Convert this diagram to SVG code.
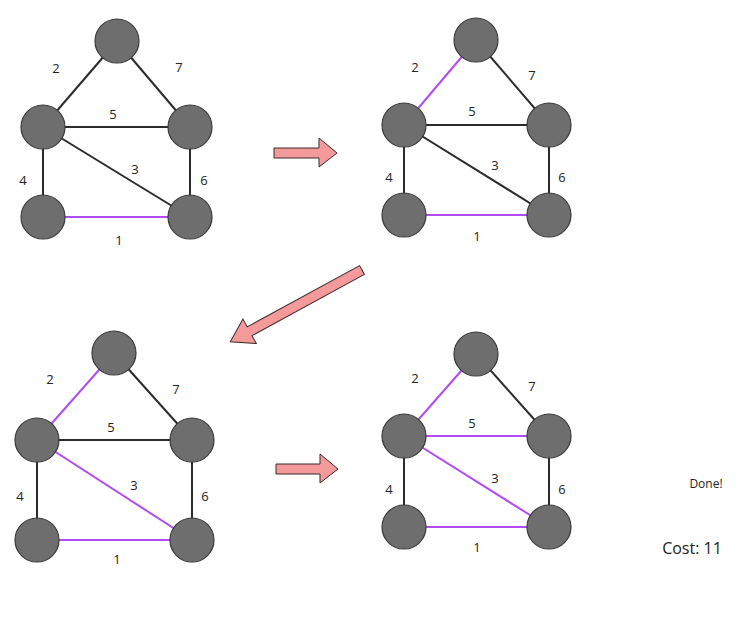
<svg xmlns="http://www.w3.org/2000/svg" width="749" height="622" viewBox="0 0 749 622">
<style>
.n{fill:#6e6e6e;stroke:#3a3a3a;stroke-width:1.2}
.e{stroke:#2b2b2b;stroke-width:2}
.p{stroke:#b04cf2;stroke-width:2}
.l{font-family:"Open Sans","Liberation Sans",sans-serif;font-size:13px;fill:#222;text-anchor:middle}
.a{fill:#f59a9a;stroke:#3a2a2a;stroke-width:1}
</style>
<rect width="749" height="622" fill="#fff"/>
<g id="connectors">
<line class="e" x1="117" y1="41" x2="43" y2="127"/><line class="e" x1="117" y1="41" x2="190" y2="127"/><line class="e" x1="43" y1="127" x2="190" y2="127"/><line class="e" x1="43" y1="127" x2="190" y2="217"/><line class="e" x1="43" y1="127" x2="43" y2="217"/><line class="e" x1="190" y1="127" x2="190" y2="217"/><line class="p" x1="43" y1="217" x2="190" y2="217"/>
<line class="p" x1="476" y1="40" x2="404" y2="125"/><line class="e" x1="476" y1="40" x2="549" y2="125"/><line class="e" x1="404" y1="125" x2="549" y2="125"/><line class="e" x1="404" y1="125" x2="549" y2="215"/><line class="e" x1="404" y1="125" x2="404" y2="215"/><line class="e" x1="549" y1="125" x2="549" y2="215"/><line class="p" x1="404" y1="215" x2="549" y2="215"/>
<line class="p" x1="114" y1="353" x2="37" y2="440"/><line class="e" x1="114" y1="353" x2="192" y2="440"/><line class="e" x1="37" y1="440" x2="192" y2="440"/><line class="p" x1="37" y1="440" x2="192" y2="540"/><line class="e" x1="37" y1="440" x2="37" y2="540"/><line class="e" x1="192" y1="440" x2="192" y2="540"/><line class="p" x1="37" y1="540" x2="192" y2="540"/>
<line class="p" x1="476" y1="354" x2="404" y2="436"/><line class="e" x1="476" y1="354" x2="549" y2="436"/><line class="p" x1="404" y1="436" x2="549" y2="436"/><line class="p" x1="404" y1="436" x2="549" y2="527"/><line class="e" x1="404" y1="436" x2="404" y2="527"/><line class="e" x1="549" y1="436" x2="549" y2="527"/><line class="p" x1="404" y1="527" x2="549" y2="527"/>
</g>
<g id="g1">
<circle class="n" cx="117" cy="41" r="22"/><circle class="n" cx="43" cy="127" r="22"/><circle class="n" cx="190" cy="127" r="22"/><circle class="n" cx="43" cy="217" r="22"/><circle class="n" cx="190" cy="217" r="22"/>
<text class="l" x="56" y="73">2</text><text class="l" x="179" y="72">7</text><text class="l" x="113" y="119">5</text><text class="l" x="135" y="174">3</text><text class="l" x="23" y="185">4</text><text class="l" x="204" y="185">6</text><text class="l" x="119" y="245">1</text>
</g>
<g id="g2">
<circle class="n" cx="476" cy="40" r="22"/><circle class="n" cx="404" cy="125" r="22"/><circle class="n" cx="549" cy="125" r="22"/><circle class="n" cx="404" cy="215" r="22"/><circle class="n" cx="549" cy="215" r="22"/>
<text class="l" x="415" y="72">2</text><text class="l" x="532" y="80">7</text><text class="l" x="472" y="116">5</text><text class="l" x="495" y="170">3</text><text class="l" x="389" y="182">4</text><text class="l" x="562" y="182">6</text><text class="l" x="477" y="241">1</text>
</g>
<g id="g3">
<circle class="n" cx="114" cy="353" r="22"/><circle class="n" cx="37" cy="440" r="22"/><circle class="n" cx="192" cy="440" r="22"/><circle class="n" cx="37" cy="540" r="22"/><circle class="n" cx="192" cy="540" r="22"/>
<text class="l" x="50" y="384">2</text><text class="l" x="176" y="394">7</text><text class="l" x="111" y="432">5</text><text class="l" x="134" y="490">3</text><text class="l" x="20" y="501">4</text><text class="l" x="205" y="501">6</text><text class="l" x="117" y="564">1</text>
</g>
<g id="g4">
<circle class="n" cx="476" cy="354" r="22"/><circle class="n" cx="404" cy="436" r="22"/><circle class="n" cx="549" cy="436" r="22"/><circle class="n" cx="404" cy="527" r="22"/><circle class="n" cx="549" cy="527" r="22"/>
<text class="l" x="415" y="383">2</text><text class="l" x="532" y="391">7</text><text class="l" x="472" y="428">5</text><text class="l" x="495" y="483">3</text><text class="l" x="389" y="494">4</text><text class="l" x="562" y="494">6</text><text class="l" x="477" y="552">1</text>
</g>
<g id="arrows">
<polygon class="a" points="274,148 319,148 319,138 337,153 319,167 319,158 274,158"/>
<polygon class="a" transform="translate(362,270) rotate(151.4)" points="0,-5 128,-5 128,-14 150,0 128,14 128,5 0,5"/>
<polygon class="a" points="276,464 320,464 320,454 338,469 320,483 320,474 276,474"/>
</g>
<text x="706" y="488" font-family="Open Sans,Liberation Sans,sans-serif" font-size="12" fill="#222" text-anchor="middle">Done!</text>
<text x="692" y="554" font-family="Open Sans,Liberation Sans,sans-serif" font-size="16" fill="#222" text-anchor="middle">Cost: 11</text>
</svg>
